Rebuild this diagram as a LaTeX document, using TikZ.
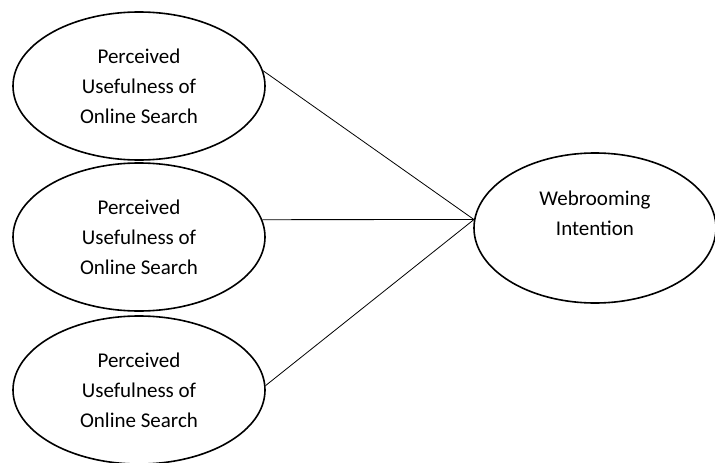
\documentclass[tikz,border=0pt]{standalone}
\usepackage{fontspec}
\setmainfont{Carlito}
\usetikzlibrary{shapes.geometric}
\begin{document}
\begin{tikzpicture}[x=1pt,y=-1pt,
  construct/.style={ellipse, draw, line width=1.6pt, minimum width=252pt,
    minimum height=148pt, inner sep=0pt, align=center,
    font=\fontsize{21}{30}\selectfont},
  caption/.style={align=center, inner sep=0pt, font=\fontsize{21}{30}\selectfont},
  path/.style={line width=0.8pt}]
  \useasboundingbox (0,0) rectangle (715,463);
  % exogenous constructs
  \node[construct] (pu1) at (139,86) {Perceived\\Usefulness of\\Online Search};
  \node[construct] (pu2) at (139,237) {Perceived\\Usefulness of\\Online Search};
  \node[construct] (pu3) at (139,390) {Perceived\\Usefulness of\\Online Search};
  % outcome construct
  \node[construct, minimum width=242pt, minimum height=150pt] (wi) at (595,228) {};
  \node[caption] (witext) at ([yshift=15pt]wi.center) {Webrooming\\Intention};
  % paths
  \draw[path] (pu1.7) -- (wi.176);
  \draw[path] (pu2.8) -- (wi.176);
  \draw[path] (pu3.2) -- (wi.176);
\end{tikzpicture}
\end{document}
